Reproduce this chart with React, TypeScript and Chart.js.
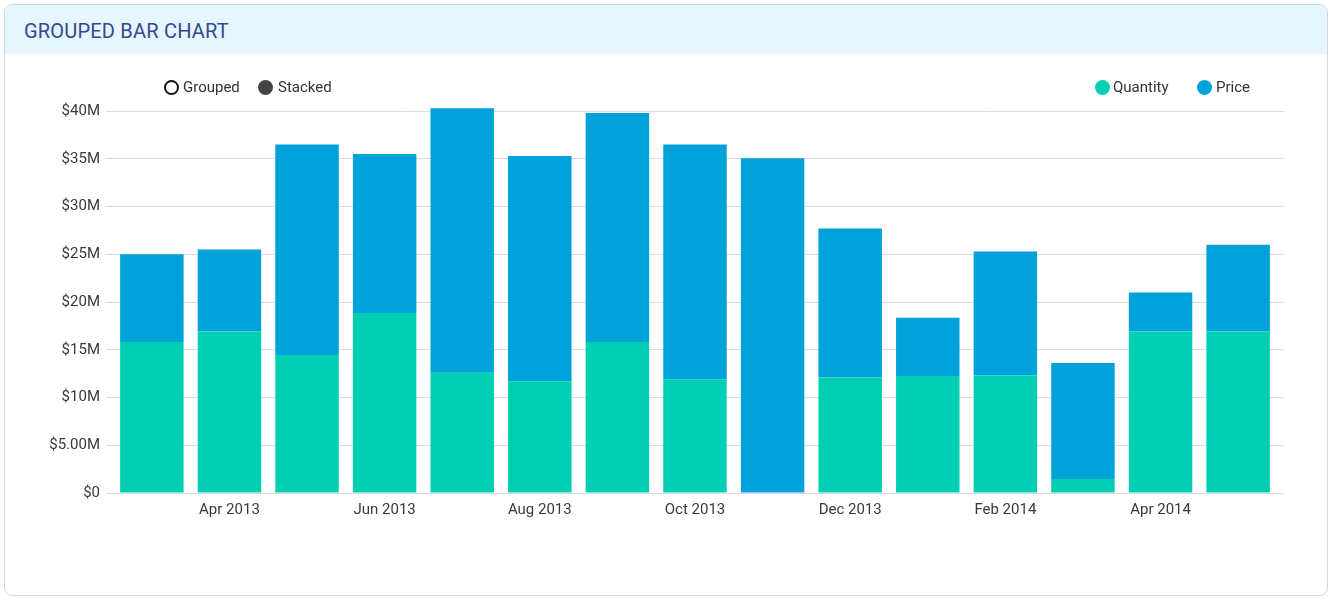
import React, { useEffect, useRef } from "react";
import { Chart, registerables } from "chart.js";

Chart.register(...registerables);

const months = [
  "Mar 2013", "Apr 2013", "May 2013", "Jun 2013", "Jul 2013", "Aug 2013", "Sep 2013",
  "Oct 2013", "Nov 2013", "Dec 2013", "Jan 2014", "Feb 2014", "Mar 2014", "Apr 2014", "May 2014",
];
const quantity = [15.8, 16.9, 14.45, 18.85, 12.6, 11.7, 15.8, 11.9, 0, 12.1, 12.25, 12.3, 1.47, 16.9, 16.9];
const price = [9.2, 8.6, 22.05, 16.65, 27.7, 23.6, 24.0, 24.6, 35.05, 15.6, 6.1, 13.0, 12.13, 4.1, 9.1];
const yTickLabels = ["$0", "$5.00M", "$10M", "$15M", "$20M", "$25M", "$30M", "$35M", "$40M"];
const seriesNames = ["Quantity", "Price"];
const seriesColors = ["#00CFB3", "#01A2D9"];

const FONT = "Roboto, 'Noto Sans', sans-serif";
const BAR_RATIO = 0.818;

export default function App() {
  const ref = useRef<HTMLCanvasElement | null>(null);

  useEffect(() => {
    if (!ref.current) return;
    const edge = (1 - BAR_RATIO) / 2;
    const chart = new Chart(ref.current, {
      type: "bar",
      data: {
        datasets: [
          {
            label: seriesNames[0],
            data: quantity.map((v, i) => ({ x: i, y: v * 1e6 })),
            backgroundColor: seriesColors[0],
            categoryPercentage: BAR_RATIO,
            barPercentage: 1,
            clip: false,
          },
          {
            label: seriesNames[1],
            data: price.map((v, i) => ({ x: i, y: v * 1e6 })),
            backgroundColor: seriesColors[1],
            categoryPercentage: BAR_RATIO,
            barPercentage: 1,
            clip: false,
          },
        ] as any,
      },
      options: {
        animation: false,
        responsive: false,
        maintainAspectRatio: false,
        layout: { padding: { left: 0, right: 50, top: 111, bottom: 77 } },
        plugins: {
          legend: { display: false },
          tooltip: { enabled: false },
        },
        scales: {
          x: {
            type: "linear",
            stacked: true,
            offset: false,
            min: -0.5 - edge,
            max: months.length - 0.5 + edge,
            grid: { display: false, drawTicks: false },
            border: { display: false },
            afterBuildTicks: (scale: any) => {
              scale.ticks = months.map((_, i) => ({ value: i }));
            },
            afterFit: (scale: any) => {
              scale.height = 30;
            },
            ticks: {
              autoSkip: false,
              maxRotation: 0,
              padding: 8,
              color: "#3a3a3a",
              font: { family: FONT, size: 15 },
              callback: (v: any) => {
                const i = Math.round(Number(v));
                return i % 2 === 1 ? months[i] : "";
              },
            },
          },
          y: {
            stacked: true,
            min: 0,
            max: 40e6,
            grid: { color: "#dcdcdc", lineWidth: 1, drawTicks: false },
            border: { display: false },
            afterFit: (scale: any) => {
              scale.width = 106;
            },
            ticks: {
              stepSize: 5e6,
              padding: 6,
              color: "#3a3a3a",
              font: { family: FONT, size: 15 },
              callback: (_v: any, i: number) => yTickLabels[i],
            },
          },
        },
      } as any,
    });
    return () => chart.destroy();
  }, []);

  const textStyle: React.CSSProperties = {
    position: "absolute",
    fontFamily: FONT,
    fontSize: 15,
    lineHeight: "18px",
    color: "#333",
    whiteSpace: "nowrap",
  };
  const dot = (left: number, style: React.CSSProperties): React.CSSProperties => ({
    position: "absolute",
    left,
    top: 80,
    width: 15,
    height: 15,
    borderRadius: "50%",
    boxSizing: "border-box",
    ...style,
  });

  return (
    <div style={{ position: "absolute", left: 0, top: 0, width: 1334, height: 600, background: "#fff" }}>
      <div
        style={{
          position: "absolute",
          left: 4,
          top: 4,
          width: 1324,
          height: 592,
          boxSizing: "border-box",
          border: "1px solid #d6d6d6",
          borderRadius: 8,
          overflow: "hidden",
          background: "#fff",
        }}
      >
        <div
          style={{
            height: 49,
            background: "#e6f6fd",
            display: "flex",
            alignItems: "center",
            paddingLeft: 19,
            paddingTop: 3,
            boxSizing: "border-box",
            fontFamily: FONT,
            fontSize: 20,
            letterSpacing: "0.2px",
            color: "#34488f",
          }}
        >
          GROUPED BAR CHART
        </div>
      </div>
      <canvas ref={ref} width={1334} height={600} style={{ position: "absolute", left: 0, top: 0, width: 1334, height: 600 }} />
      <div style={dot(164, { border: "2px solid #111" })} />
      <div style={{ ...textStyle, left: 183, top: 78 }}>Grouped</div>
      <div style={dot(258, { background: "#444" })} />
      <div style={{ ...textStyle, left: 278, top: 78 }}>Stacked</div>
      <div style={dot(1095, { background: seriesColors[0] })} />
      <div style={{ ...textStyle, left: 1113, top: 78 }}>{seriesNames[0]}</div>
      <div style={dot(1197, { background: seriesColors[1] })} />
      <div style={{ ...textStyle, left: 1216, top: 78 }}>{seriesNames[1]}</div>
    </div>
  );
}
